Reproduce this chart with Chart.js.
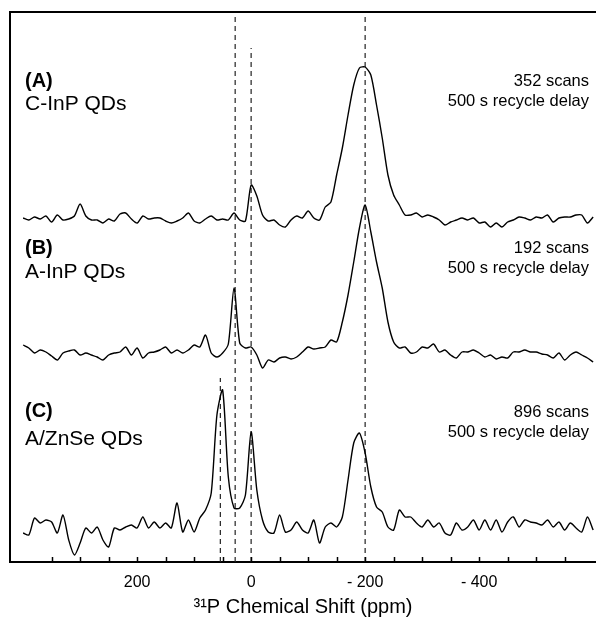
<!DOCTYPE html>
<html lang="en">

<head>
    <meta charset="UTF-8">
    <title>31P NMR spectra</title>
    <script src="https://cdn.jsdelivr.net/npm/chart.js"></script>
    <style>
        body { margin: 0; background: #fff; }
    </style>
</head>

<body>
    <canvas id="nmrChart" width="596" height="619"></canvas>

    <script>
        // chemical shift grid (ppm), 10 ppm steps, shared by all three spectra
        const shifts = [
            400, 390, 380, 370, 360, 350, 340, 330, 320, 310,
            300, 290, 280, 270, 260, 250, 240, 230, 220, 210,
            200, 190, 180, 170, 160, 150, 140, 130, 120, 110,
            100, 90, 80, 70, 60, 50, 40, 30, 20, 10,
            0, -10, -20, -30, -40, -50, -60, -70, -80, -90,
            -100, -110, -120, -130, -140, -150, -160, -170, -180, -190,
            -200, -210, -220, -230, -240, -250, -260, -270, -280, -290,
            -300, -310, -320, -330, -340, -350, -360, -370, -380, -390,
            -400, -410, -420, -430, -440, -450, -460, -470, -480, -490,
            -500, -510, -520, -530, -540, -550, -560, -570, -580, -590,
            -600
        ];

        // intensities (arbitrary units, baseline = 0)
        const specA = [
            0, -2, 1, -1, 2, -4, 3, -2, -1, 2,
            14, 2, -2, -2, -5, -1, -3, 4, 5, -1,
            -5, 2, -1, 0, 0, -3, -5, -3, 0, 5,
            -3, -5, -1, 2, -2, -1, -2, 5, -2, -3,
            33, 22, 3, -3, -2, -7, -9, -2, 2, 0,
            7, 0, -2, 11, 16, 43, 70, 103, 133, 150,
            151, 143, 113, 80, 43, 23, 13, 3, 3, 5,
            1, 3, 1, -2, -7, -4, -2, 0, -2, 0,
            -5, -4, -9, -5, -9, -4, -2, 1, 0, -2,
            1, 0, 3, -4, 0, 1, 1, 3, 3, -5,
            1
        ];
        const specB = [
            7, 4, -1, 2, 0, -4, -8, -1, 1, 2,
            -3, -1, -3, -5, -8, -3, -1, 0, 5, -3,
            4, -6, -1, 0, 2, 5, -1, 2, -1, 2,
            7, 5, 17, -1, -5, -1, 8, 64, 9, 4,
            5, -3, -16, -8, -10, -6, -5, -7, -5, 0,
            5, 3, 4, 5, 12, 10, 30, 57, 90, 124,
            147, 120, 90, 64, 30, 10, 4, 5, -1, 0,
            5, 4, 8, 0, 2, -3, -6, 0, 0, 2,
            -1, -5, -3, -7, -5, -6, 0, 0, 2, 0,
            0, -2, -3, -6, -1, -8, -3, 0, -3, -6,
            -10
        ];
        const specC = [
            -3, -5, 12, 7, 10, 8, -3, 15, -10, -25,
            -13, 2, -3, 3, -10, -17, 2, 0, 3, 5,
            2, 13, 2, 8, 2, 7, 2, 27, -2, 10,
            -2, 12, 20, 37, 115, 140, 53, 22, 22, 35,
            98, 40, 10, -2, -3, 15, -2, 0, 8, 0,
            -3, 10, -13, 3, 7, 3, 13, 50, 87, 97,
            77, 43, 23, 18, 3, 0, 20, 13, 13, 7,
            3, 10, 3, 7, -3, -5, 7, 0, 3, 10,
            0, 10, 0, 10, -2, 8, 13, 3, 10, 8,
            7, 5, 10, 3, 8, 0, 7, 2, -2, 13,
            0
        ];

        const panelTags = ['(A)', '(B)', '(C)'];
        const sampleNames = ['C-InP QDs', 'A-InP QDs', 'A/ZnSe QDs'];
        const scanCounts = [352, 192, 896];
        const recycleDelay = 500;

        // reference shifts marked with dashed lines, and how high each one reaches
        const markerShifts = [54, 28, 0, -200];
        const markerTops = [184, 550, 514, 550];

        const tickLabels = [200, 0, -200, -400];

        // vertical stacking of the three spectra
        const offsets = [344, 210, 32];

        const FONT = '"Liberation Sans", Arial, Helvetica, sans-serif';

        function toPoints(values, offset) {
            return shifts.map((s, i) => ({ x: s, y: values[i] + offset }));
        }

        const traceStyle = {
            borderColor: '#000',
            borderWidth: 1.4,
            pointRadius: 0,
            tension: 0.25,
            fill: false
        };

        const datasets = [
            Object.assign({ data: toPoints(specA, offsets[0]) }, traceStyle),
            Object.assign({ data: toPoints(specB, offsets[1]) }, traceStyle),
            Object.assign({ data: toPoints(specC, offsets[2]) }, traceStyle)
        ];

        markerShifts.forEach((s, i) => {
            datasets.push({
                data: [{ x: s, y: 0 }, { x: s, y: markerTops[i] }],
                borderColor: '#222',
                borderWidth: 1.2,
                borderDash: [5, 4],
                pointRadius: 0
            });
        });

        // frame, inward tick marks and panel captions
        const decorations = {
            id: 'decorations',
            afterDraw(chart) {
                const ctx = chart.ctx;
                const area = chart.chartArea;
                const xs = chart.scales.x;

                ctx.save();
                ctx.strokeStyle = '#000';
                ctx.lineWidth = 2;
                ctx.beginPath();
                ctx.moveTo(area.left, area.bottom);
                ctx.lineTo(area.left, area.top);
                ctx.lineTo(area.right, area.top);
                ctx.stroke();

                ctx.lineWidth = 1.5;
                xs.ticks.forEach(t => {
                    if (t.value > 350 || t.value < -550) return;
                    const px = Math.round(xs.getPixelForValue(t.value)) + 0.5;
                    ctx.beginPath();
                    ctx.moveTo(px, area.bottom);
                    ctx.lineTo(px, area.bottom - 5);
                    ctx.stroke();
                });

                const tagY = [81, 248, 411];
                const nameY = [104, 272, 439];
                const scanY = [81, 248, 412];
                const delayY = [101, 268, 432];

                ctx.fillStyle = '#000';
                ctx.textBaseline = 'middle';
                for (let i = 0; i < 3; i++) {
                    ctx.textAlign = 'left';
                    ctx.font = 'bold 20px ' + FONT;
                    ctx.fillText(panelTags[i], 25, tagY[i]);
                    ctx.font = '21px ' + FONT;
                    ctx.fillText(sampleNames[i], 25, nameY[i]);

                    ctx.textAlign = 'right';
                    ctx.font = '16.5px ' + FONT;
                    ctx.fillText(scanCounts[i] + ' scans', 589, scanY[i]);
                    ctx.fillText(recycleDelay + ' s recycle delay', 589, delayY[i]);
                }
                ctx.restore();
            }
        };

        new Chart(document.getElementById('nmrChart'), {
            type: 'line',
            data: { datasets: datasets },
            options: {
                responsive: false,
                animation: false,
                parsing: false,
                layout: {
                    autoPadding: false,
                    padding: { left: 10, top: 12, right: 0, bottom: 0 }
                },
                plugins: {
                    legend: { display: false },
                    tooltip: { enabled: false }
                },
                scales: {
                    x: {
                        type: 'linear',
                        reverse: true,
                        min: -605,
                        max: 423,
                        afterFit(scale) {
                            scale.height = 57;
                            scale.paddingLeft = 0;
                            scale.paddingRight = 0;
                        },
                        // tick marks are drawn inward by the plugin; tickLength only pushes the labels down
                        grid: { display: false, drawTicks: true, tickLength: 11 },
                        border: { display: true, color: '#000', width: 2 },
                        ticks: {
                            stepSize: 50,
                            includeBounds: false,
                            autoSkip: false,
                            maxRotation: 0,
                            padding: 0,
                            color: '#000',
                            font: { family: FONT, size: 16 },
                            callback: v => tickLabels.includes(v) ? (v < 0 ? '- ' + Math.abs(v) : String(v)) : ''
                        },
                        title: {
                            display: true,
                            text: '³¹P Chemical Shift (ppm)',
                            color: '#000',
                            font: { family: FONT, size: 20 },
                            padding: { top: 0, bottom: 0 }
                        }
                    },
                    y: {
                        display: false,
                        min: 0,
                        max: 550
                    }
                }
            },
            plugins: [decorations]
        });
    </script>
</body>

</html>
